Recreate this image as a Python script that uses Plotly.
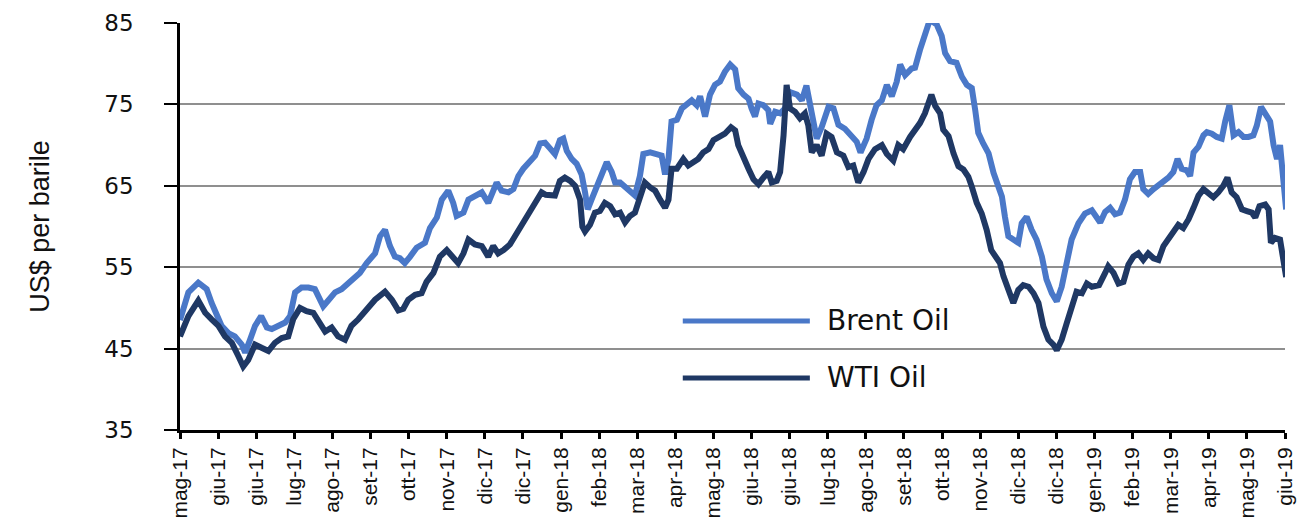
import plotly.graph_objects as go

# x tick labels (category-like evenly spaced labels)
tick_labels = ["mag-17", "giu-17", "giu-17", "lug-17", "ago-17", "set-17", "ott-17", "nov-17",
               "dic-17", "dic-17", "gen-18", "feb-18", "mar-18", "apr-18", "mag-18", "giu-18",
               "giu-18", "lug-18", "ago-18", "set-18", "ott-18", "nov-18", "dic-18", "dic-18",
               "gen-19", "feb-19", "mar-19", "apr-19", "mag-19", "giu-19"]

# Brent: position along the label axis (in label steps) and price
brent_t = [0.00, 0.22, 0.48, 0.70, 0.83, 0.96, 1.09, 1.27, 1.44, 1.62, 1.71, 1.84, 1.97, 2.13, 2.28,
           2.41, 2.58, 2.76, 2.89, 3.02, 3.19, 3.37, 3.54, 3.67, 3.76, 3.89, 4.07, 4.24, 4.42, 4.59,
           4.72, 4.90, 5.12, 5.25, 5.38, 5.51, 5.64, 5.77, 5.90, 6.04, 6.21, 6.43, 6.56, 6.74, 6.87,
           7.04, 7.17, 7.26, 7.44, 7.57, 7.74, 7.92, 8.09, 8.22, 8.31, 8.44, 8.62, 8.75, 8.88, 9.01,
           9.19, 9.32, 9.45, 9.58, 9.71, 9.84, 9.97, 10.06, 10.15, 10.28, 10.41, 10.54, 10.63, 10.70,
           10.80, 10.94, 11.07, 11.20, 11.33, 11.42, 11.55, 11.68, 11.81, 11.94, 12.07, 12.16, 12.34,
           12.51, 12.64, 12.73, 12.82, 12.90, 13.04, 13.17, 13.30, 13.43, 13.56, 13.65, 13.78, 13.91,
           14.04, 14.17, 14.30, 14.44, 14.57, 14.65, 14.79, 14.92, 15.00, 15.09, 15.18, 15.31, 15.44,
           15.49, 15.62, 15.75, 15.88, 16.01, 16.19, 16.32, 16.44, 16.58, 16.71, 16.84, 17.02, 17.15,
           17.28, 17.45, 17.63, 17.76, 17.86, 18.02, 18.15, 18.28, 18.42, 18.55, 18.68, 18.81, 18.90,
           19.03, 19.20, 19.29, 19.42, 19.55, 19.68, 19.86, 19.99, 20.08, 20.21, 20.38, 20.52, 20.65,
           20.78, 20.87, 20.95, 21.08, 21.22, 21.35, 21.48, 21.57, 21.65, 21.74, 21.87, 22.00, 22.09,
           22.22, 22.35, 22.48, 22.62, 22.74, 22.88, 23.01, 23.14, 23.27, 23.40, 23.58, 23.75, 23.93,
           24.06, 24.15, 24.28, 24.41, 24.54, 24.67, 24.80, 24.93, 25.06, 25.20, 25.28, 25.41, 25.55,
           25.68, 25.81, 25.94, 26.07, 26.18, 26.29, 26.42, 26.51, 26.60, 26.73, 26.86, 26.95, 27.08,
           27.21, 27.34, 27.43, 27.54, 27.65, 27.78, 27.91, 28.04, 28.17, 28.26, 28.37, 28.48, 28.61,
           28.70, 28.79, 28.87, 28.96, 29.03]
brent = [48.5, 51.9, 53.1, 52.3, 50.6, 49.0, 47.8, 46.9, 46.5, 45.5, 44.5, 46.1, 47.8, 49.0, 47.6,
         47.4, 47.8, 48.2, 49.0, 51.9, 52.5, 52.5, 52.3, 51.1, 50.2, 50.9, 51.9, 52.3, 53.1, 53.7,
         54.3, 55.5, 56.7, 58.8, 59.6, 57.6, 56.3, 56.1, 55.5, 56.3, 57.4, 58.0, 59.8, 61.1, 63.3,
         64.4, 62.9, 61.3, 61.7, 63.3, 63.8, 64.2, 62.9, 64.6, 65.4, 64.4, 64.2, 64.6, 66.2, 67.1,
         67.9, 68.7, 70.2, 70.3, 69.6, 68.9, 70.6, 70.8, 69.3, 68.3, 67.7, 66.4, 64.2, 62.1,
         63.3, 65.0, 66.7, 67.9, 66.7, 65.4, 65.4, 64.8, 64.4, 63.8, 66.2, 68.9, 69.1,
         68.9, 68.7, 66.4, 68.3, 72.9, 73.1, 74.5, 75.1, 75.5, 74.9, 76.0, 73.5, 76.2,
         77.4, 77.8, 79.0, 79.9, 79.3, 77.0, 76.2, 75.7, 74.5, 73.5, 75.1, 74.9, 74.3,
         72.6, 74.1, 73.9, 74.5, 76.5, 76.2, 75.5, 77.3, 73.5, 70.8, 72.2, 74.7, 74.5,
         72.5, 72.0, 71.2, 70.4, 69.1, 70.8, 73.1, 74.9, 75.5, 77.4, 76.0, 77.8, 79.9,
         78.6, 79.4, 79.5, 81.7, 83.4, 85.4, 84.8, 83.4, 81.3, 80.3, 80.1, 78.4, 77.4,
         77.0, 74.3, 71.5, 70.2, 69.0, 66.6, 64.9, 63.7, 61.2, 58.8, 58.4, 58.0, 60.4,
         61.2, 59.6, 58.4, 56.3, 53.5, 51.8, 50.8, 52.6, 55.5, 58.4, 60.4, 61.6, 62.0,
         61.2, 60.5, 61.8, 62.3, 61.5, 61.7, 63.3, 65.8, 66.7, 66.7, 64.6, 64.0, 64.6,
         65.0, 65.4, 66.0, 66.7, 68.3, 67.1, 66.9, 66.2, 69.1, 69.8, 71.2, 71.6, 71.4,
         71.0, 70.8, 72.9, 74.9, 71.2, 71.6, 71.0, 71.0, 71.2, 72.4, 74.7, 73.7, 72.9,
         70.0, 68.3, 70.0, 66.2, 62.1]

# WTI: position along the label axis (in label steps) and price
wti_t = [0.00, 0.22, 0.48, 0.66, 0.83, 1.01, 1.18, 1.36, 1.53, 1.66, 1.79, 1.97, 2.14, 2.32, 2.49,
         2.67, 2.84, 2.97, 3.15, 3.32, 3.50, 3.67, 3.81, 3.98, 4.15, 4.33, 4.50, 4.68, 4.90, 5.12,
         5.38, 5.56, 5.73, 5.86, 5.99, 6.17, 6.34, 6.47, 6.65, 6.82, 7.00, 7.17, 7.30, 7.44, 7.57,
         7.74, 7.92, 8.09, 8.22, 8.35, 8.49, 8.66, 8.84, 9.01, 9.19, 9.36, 9.49, 9.60, 9.71, 9.84,
         9.97, 10.10, 10.24, 10.37, 10.50, 10.56, 10.63, 10.76, 10.89, 11.02, 11.15, 11.29, 11.42,
         11.55, 11.68, 11.81, 11.94, 12.07, 12.20, 12.34, 12.47, 12.60, 12.73, 12.82, 12.90, 13.04,
         13.21, 13.34, 13.47, 13.60, 13.73, 13.87, 14.00, 14.13, 14.30, 14.46, 14.57, 14.65, 14.79,
         14.92, 15.05, 15.18, 15.31, 15.44, 15.53, 15.66, 15.75, 15.84, 15.92, 16.01, 16.14, 16.27,
         16.40, 16.49, 16.58, 16.71, 16.84, 16.97, 17.10, 17.24, 17.41, 17.54, 17.67, 17.80, 17.94,
         18.07, 18.24, 18.42, 18.55, 18.72, 18.85, 18.98, 19.16, 19.29, 19.42, 19.55, 19.72, 19.82,
         19.95, 20.03, 20.17, 20.30, 20.43, 20.56, 20.69, 20.78, 20.91, 21.04, 21.17, 21.29, 21.43,
         21.52, 21.61, 21.74, 21.87, 22.00, 22.13, 22.27, 22.40, 22.53, 22.66, 22.79, 22.92, 23.01,
         23.14, 23.27, 23.40, 23.53, 23.67, 23.80, 23.93, 24.12, 24.28, 24.36, 24.50, 24.63, 24.76,
         24.89, 25.02, 25.15, 25.28, 25.41, 25.55, 25.68, 25.81, 25.94, 26.07, 26.20, 26.33, 26.47,
         26.60, 26.73, 26.86, 26.99, 27.12, 27.25, 27.38, 27.49, 27.60, 27.73, 27.87, 28.00, 28.13,
         28.22, 28.33, 28.48, 28.57, 28.63, 28.74, 28.87, 28.96, 29.03]
wti = [46.5, 49.0, 50.9, 49.4, 48.6, 47.8, 46.5, 45.7, 44.1, 42.8, 43.6, 45.5, 45.1, 44.7, 45.7,
       46.3, 46.5, 48.6, 50.0, 49.6, 49.4, 48.2, 47.1, 47.6, 46.5, 46.1, 47.8, 48.6, 49.9, 51.0,
       52.0, 51.0, 49.7, 49.9, 51.0, 51.6, 51.8, 53.2, 54.3, 56.3, 57.1, 56.3, 55.5, 56.7, 58.4,
       57.8, 57.6, 56.3, 57.6, 56.7, 57.1, 57.8, 59.2, 60.2, 61.7, 62.9, 64.2, 63.9, 63.8, 63.8,
       65.6, 66.0, 65.6, 65.0, 63.3, 60.0, 59.4, 60.2, 61.7, 61.9, 62.9, 62.5, 61.5,
       61.7, 60.5, 61.3, 61.7, 63.3, 65.4, 64.8, 64.4, 63.3, 62.3, 63.3, 67.1, 67.1,
       68.3, 67.5, 67.9, 68.3, 69.1, 69.5, 70.6, 71.0, 71.4, 72.2, 71.8, 70.0, 68.3,
       67.1, 65.8, 65.2, 66.0, 66.7, 65.4, 65.6, 66.7, 71.2, 77.4, 74.5, 74.1, 73.3,
       73.9, 72.4, 69.1, 70.0, 68.7, 71.4, 71.0, 69.1, 68.7, 67.3, 67.5, 65.4, 66.7,
       68.3, 69.5, 70.0, 68.9, 68.1, 70.0, 69.5, 71.0, 71.8, 72.7, 73.9, 76.2, 74.8,
       73.9, 71.9, 71.1, 69.0, 67.4, 67.0, 66.1, 64.9, 62.9, 61.6, 59.6, 57.1, 56.3,
       55.5, 53.9, 52.2, 50.6, 52.2, 52.8, 52.6, 51.8, 50.6, 47.7, 46.1, 45.5, 44.8,
       46.1, 48.1, 50.2, 52.0, 51.8, 53.0, 52.6, 52.8, 54.3, 55.1, 54.3, 53.0, 53.2,
       55.3, 56.3, 56.7, 55.9, 56.7, 56.1, 55.9, 57.6, 58.4, 59.2, 60.2, 59.8, 60.9,
       62.3, 63.8, 64.6, 64.0, 63.6, 64.2, 65.0, 66.0, 64.2, 63.6, 62.1, 61.9, 61.7,
       61.1, 62.5, 62.7, 62.1, 58.0, 58.6, 58.4, 55.9, 53.8]

series_names = ["Brent Oil", "WTI Oil"]
colors = ["#4A78C8", "#1F3864"]

fig = go.Figure()
fig.add_trace(go.Scatter(x=brent_t, y=brent, mode="lines", name=series_names[0],
                         line=dict(color=colors[0], width=6), showlegend=False))
fig.add_trace(go.Scatter(x=wti_t, y=wti, mode="lines", name=series_names[1],
                         line=dict(color=colors[1], width=6), showlegend=False))

# custom legend (long swatches like the original)
leg_y = [0.268, 0.128]
for name, col, yy in zip(series_names, colors, leg_y):
    fig.add_shape(type="line", xref="paper", yref="paper", x0=0.455, x1=0.570, y0=yy, y1=yy,
                  line=dict(color=col, width=5))
    fig.add_annotation(xref="paper", yref="paper", x=0.584, y=yy, text=name, showarrow=False,
                       xanchor="left", yanchor="middle",
                       font=dict(family="DejaVu Sans", size=28, color="#111111"))

# the page body has an 8px default margin, so the figure is sized to fit the window
fig.update_layout(
    width=1298, height=511,
    margin=dict(l=172, r=21, t=15, b=89),
    paper_bgcolor="white", plot_bgcolor="white",
    xaxis=dict(range=[0, 29], tickmode="array", tickvals=list(range(len(tick_labels))),
               ticktext=tick_labels, tickangle=-90, showgrid=False, zeroline=False,
               automargin=False,
               showline=True, linecolor="black", linewidth=3,
               ticks="outside", ticklen=6, tickwidth=3, tickcolor="black",
               tickfont=dict(family="Liberation Sans", size=21, color="#111111")),
    yaxis=dict(range=[35, 85], tickvals=[35, 45, 55, 65, 75, 85], showgrid=True,
               gridcolor="#8f8f8f", gridwidth=1.5, zeroline=False, automargin=False,
               showline=True, linecolor="black", linewidth=2.5,
               ticks="outside", ticklen=13, tickwidth=2, tickcolor="black",
               ticklabelstandoff=26,
               tickfont=dict(family="DejaVu Sans", size=23, color="#111111"),
               title=dict(text="US$ per barile", standoff=47,
                          font=dict(family="Liberation Sans", size=27, color="#111111"))),
)

fig.write_html("out.html")
